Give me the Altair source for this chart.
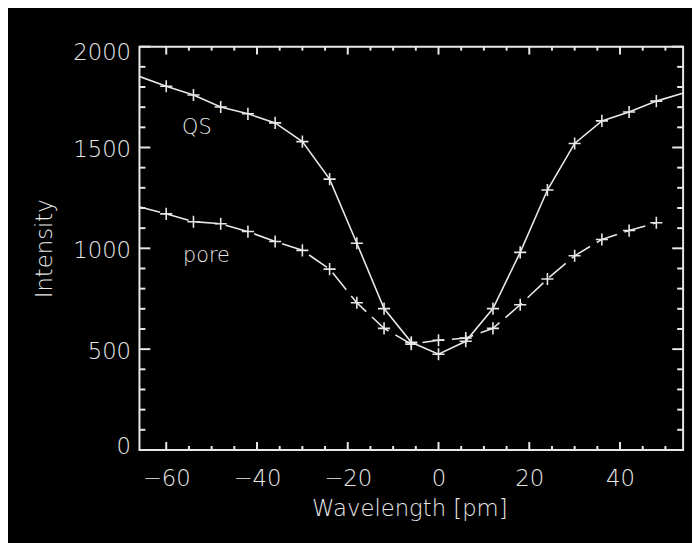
import altair as alt
import pandas as pd

# ---- data ----
wavelength = [-66, -60, -54, -48, -42, -36, -30, -24, -18, -12, -6, 0, 6, 12, 18, 24, 30, 36, 42, 48, 54]
qs_intensity = [1853, 1804, 1760, 1701, 1667, 1622, 1529, 1343, 1025, 701, 534, 475, 539, 701, 980, 1289, 1520, 1632, 1676, 1730, 1770]
pore_intensity = [1206, 1171, 1132, 1122, 1083, 1034, 990, 897, 730, 603, 525, 544, 555, 603, 720, 848, 963, 1044, 1088, 1127, None]

x_label_values = [-60, -40, -20, 0, 20, 40]
x_minor_values = [-55, -50, -45, -35, -30, -25, -15, -10, -5, 5, 10, 15, 25, 30, 35, 45, 50]
y_label_values = [0, 500, 1000, 1500, 2000]
y_minor_values = [100, 200, 300, 400, 600, 700, 800, 900, 1100, 1200, 1300, 1400, 1600, 1700, 1800, 1900]

label_text = ["QS", "pore"]
label_x = [-56.5, -56.3]
label_y = [1569, 931]

X_DOMAIN = [-65.9, 53.9]
Y_DOMAIN = [0, 2000]
W, H = 550, 408
FG = "#e8e8e8"
FONT = "DejaVu Sans"
FW = 200

rows = []
for w, q, p in zip(wavelength, qs_intensity, pore_intensity):
    rows.append({"wavelength": w, "intensity": q, "series": "QS"})
    if p is not None:
        rows.append({"wavelength": w, "intensity": p, "series": "pore"})
df = pd.DataFrame(rows)

xs = alt.Scale(domain=X_DOMAIN, nice=False, zero=False)
ys = alt.Scale(domain=Y_DOMAIN, nice=False, zero=False)

x_axis = alt.Axis(
    values=x_label_values, ticks=False, domain=False, grid=False, tickSize=0,
    format="d",
    labelFontSize=23, labelFont=FONT, labelFontWeight=FW, labelColor=FG, labelFlush=False,
    labelBaseline="alphabetic", labelPadding=36,
    title="Wavelength [pm]", titleFontSize=23, titleFont=FONT, titleColor=FG,
    titleFontWeight=FW, titleBaseline="alphabetic", titleX=273, titleY=66,
    labelExpr="replace(datum.label, '-', '\u2212')",
)
y_axis = alt.Axis(
    values=y_label_values, ticks=False, domain=False, grid=False, tickSize=0,
    format="d",
    labelFontSize=23, labelFont=FONT, labelFontWeight=FW, labelColor=FG, labelFlush=True,
    labelFlushOffset=7, labelPadding=9, labelOffset=2,
    title="Intensity", titleFontSize=23, titleFont=FONT, titleColor=FG,
    titleFontWeight=FW, titleBaseline="alphabetic", titleX=-89, titleY=204,
    titleAngle=270,
)

base = alt.Chart(df)
qs_line = base.transform_filter(alt.datum.series == "QS").mark_line(
    color=FG, strokeWidth=1.6, clip=True
).encode(
    x=alt.X("wavelength:Q", scale=xs, axis=x_axis),
    y=alt.Y("intensity:Q", scale=ys, axis=y_axis),
)
pore_line = base.transform_filter(alt.datum.series == "pore").mark_line(
    color=FG, strokeWidth=1.6, strokeDash=[22, 8], clip=True
).encode(
    x=alt.X("wavelength:Q", scale=xs, axis=x_axis),
    y=alt.Y("intensity:Q", scale=ys, axis=y_axis),
)
markers = base.transform_filter(
    (alt.datum.wavelength >= -60) & (alt.datum.wavelength <= 48)
).mark_point(
    shape="M-1,0L1,0M0,-1L0,1", size=150, filled=False, color=FG,
    strokeWidth=1.6, opacity=1, clip=True
).encode(
    x=alt.X("wavelength:Q", scale=xs, axis=x_axis),
    y=alt.Y("intensity:Q", scale=ys, axis=y_axis),
    detail="series:N",
)

labels_df = pd.DataFrame({"wavelength": label_x, "intensity": label_y, "text": label_text})
labels = alt.Chart(labels_df).mark_text(
    align="left", baseline="alphabetic", fontSize=21, font=FONT, fontWeight=FW, color=FG
).encode(
    x=alt.X("wavelength:Q", scale=xs, axis=x_axis),
    y=alt.Y("intensity:Q", scale=ys, axis=y_axis),
    text="text:N",
)

# inward tick marks on all four sides
def xticks(values, length):
    d = pd.DataFrame({"wavelength": values})
    bottom = alt.Chart(d).mark_rule(color=FG, strokeWidth=2).encode(
        x=alt.X("wavelength:Q", scale=xs, axis=x_axis), y=alt.value(H), y2=alt.value(H - length)
    )
    top = alt.Chart(d).mark_rule(color=FG, strokeWidth=2).encode(
        x=alt.X("wavelength:Q", scale=xs, axis=x_axis), y=alt.value(0), y2=alt.value(length)
    )
    return [bottom, top]

def yticks(values, length):
    d = pd.DataFrame({"intensity": values})
    left = alt.Chart(d).mark_rule(color=FG, strokeWidth=2).encode(
        y=alt.Y("intensity:Q", scale=ys, axis=y_axis), x=alt.value(0), x2=alt.value(length)
    )
    right = alt.Chart(d).mark_rule(color=FG, strokeWidth=2).encode(
        y=alt.Y("intensity:Q", scale=ys, axis=y_axis), x=alt.value(W), x2=alt.value(W - length)
    )
    return [left, right]

tick_layers = (
    xticks(x_label_values, 8) + xticks(x_minor_values, 4)
    + yticks(y_label_values, 11) + yticks(y_minor_values, 6)
)

chart = alt.layer(
    *tick_layers, qs_line, pore_line, markers, labels
).properties(
    width=W, height=H,
    autosize=alt.AutoSizeParams(type="none"),
    padding={"left": 133, "top": 36, "right": 9, "bottom": 91},
    background="black",
).configure_view(
    stroke=FG, strokeWidth=2, fill="black"
)

chart.save("out.html", embed_options={"renderer": "svg", "actions": False})
